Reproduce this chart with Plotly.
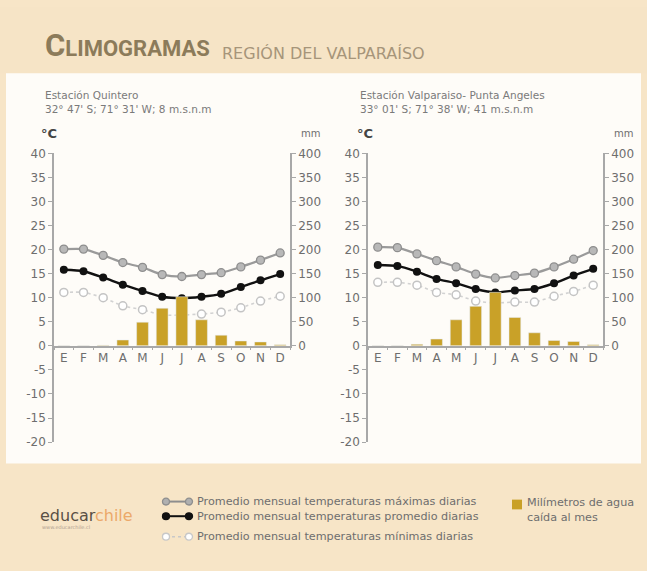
import plotly.graph_objects as go

W, H = 647, 571

months = ["E", "F", "M", "A", "M", "J", "J", "A", "S", "O", "N", "D"]
temp_ticks = [-20, -15, -10, -5, 0, 5, 10, 15, 20, 25, 30, 35, 40]
temp_labels = ["-20", "-15", "-10", "-5", "0", "5", "10", "15", "20", "25", "30", "35", "40"]
mm_ticks = [0, 50, 100, 150, 200, 250, 300, 350, 400]

# Estación Quintero
q_max = [20.1, 20.1, 18.8, 17.3, 16.3, 14.8, 14.4, 14.8, 15.2, 16.4, 17.8, 19.3]
q_mean = [15.8, 15.5, 14.2, 12.7, 11.4, 10.2, 9.9, 10.2, 10.8, 12.2, 13.6, 14.9]
q_min = [11.1, 11.1, 10.0, 8.3, 7.5, 6.4, 6.4, 6.6, 7.0, 7.9, 9.3, 10.3]
q_pp = [0.5, 0.5, 1, 12, 49, 78, 102, 54, 22, 10, 8, 2]

# Estación Valparaíso - Punta Angeles
v_max = [20.5, 20.4, 19.1, 17.7, 16.4, 14.9, 14.1, 14.6, 15.1, 16.4, 18.0, 19.8]
v_mean = [16.8, 16.6, 15.4, 13.9, 13.0, 11.8, 11.1, 11.5, 11.8, 13.0, 14.6, 16.0]
v_min = [13.2, 13.2, 12.6, 11.1, 10.6, 9.3, 8.9, 9.1, 9.1, 10.3, 11.3, 12.6]
v_pp = [0.5, 0.5, 3, 14, 54, 82, 111, 59, 27, 11, 9, 2]

def px(x):
    return x / W

def py(y):
    return 1 - y / H

AX = "#a8a8a8"
TXT = "#6e6e6e"
FONT = "DejaVu Sans, Verdana, sans-serif"
BAR = "#c9a128"

fig = go.Figure()

cat_idx = list(range(12))

def add_chart(xr, yr, y2r, xor, maxv, meanv, minv, pp):
    fig.add_trace(go.Bar(x=cat_idx, y=pp, xaxis=xr, yaxis=y2r, marker_color=BAR,
                         width=0.6, showlegend=False, hoverinfo="skip"))
    fig.add_trace(go.Scatter(x=cat_idx, y=minv, xaxis=xr, yaxis=yr, mode="lines+markers",
                             line=dict(color="#d2d2d2", width=1.6, dash="dot", shape="spline", smoothing=0.6),
                             marker=dict(symbol="circle", size=8, color="white",
                                         line=dict(color="#c4c4c4", width=1.5)),
                             showlegend=False))
    fig.add_trace(go.Scatter(x=cat_idx, y=maxv, xaxis=xr, yaxis=yr, mode="lines+markers",
                             line=dict(color="#9a9a9a", width=2.2, shape="spline", smoothing=0.6),
                             marker=dict(symbol="circle", size=8, color="#b8b8b8",
                                         line=dict(color="#8e8e8e", width=1.3)),
                             showlegend=False))
    fig.add_trace(go.Scatter(x=cat_idx, y=meanv, xaxis=xr, yaxis=yr, mode="lines+markers",
                             line=dict(color="#111111", width=2.4, shape="spline", smoothing=0.6),
                             marker=dict(symbol="circle", size=8, color="#111111"),
                             showlegend=False))
    # invisible helper trace for the overlay tick axis
    fig.add_trace(go.Scatter(x=[-0.5, 11.5], y=[0, 0], xaxis=xor, yaxis=y2r, mode="markers",
                             marker=dict(opacity=0), showlegend=False, hoverinfo="skip"))

def axes(xa, ya, ya2, xov, x0, x1):
    xr = "x" if xa == "xaxis" else "x" + xa[5:]
    yr = "y" if ya == "yaxis" else "y" + ya[5:]
    y2r = "y" + ya2[5:]
    ytop, yzero, ybot = 150, 347.3, 446
    fig.update_layout({
        xa: dict(domain=[px(x0), px(x1)], anchor=y2r, range=[-0.5, 11.5],
                 tickmode="array", tickvals=cat_idx, ticktext=months,
                 showline=True, linecolor=AX, linewidth=1.5, showgrid=False, zeroline=False,
                 ticks="", tickfont=dict(family=FONT, size=12, color=TXT), fixedrange=True),
        xov: dict(overlaying=xr, anchor=y2r, range=[-0.5, 11.5], tickmode="array",
                  tickvals=[i + 0.5 for i in range(-1, 12)], ticks="outside", ticklen=3,
                  tickwidth=1.2, tickcolor=AX, showticklabels=False, showline=False,
                  showgrid=False, zeroline=False),
        ya: dict(domain=[py(ybot), py(ytop)], anchor=xr, range=[-20, 40], tickmode="array",
                 tickvals=temp_ticks, ticktext=temp_labels, ticks="outside", ticklen=4,
                 tickcolor=AX, showline=True, linecolor=AX, linewidth=1.5, showgrid=False,
                 zeroline=False, tickfont=dict(family=FONT, size=12, color=TXT), fixedrange=True),
        ya2: dict(domain=[py(yzero), py(ytop)], anchor=xr, side="right", range=[0, 400],
                  tickmode="array", tickvals=mm_ticks, ticks="outside", ticklen=4, tickcolor=AX,
                  showline=True, linecolor=AX, linewidth=1.5, showgrid=False, zeroline=False,
                  tickfont=dict(family=FONT, size=12, color=TXT), fixedrange=True),
    })

add_chart("x", "y", "y2", "x2", q_max, q_mean, q_min, q_pp)
add_chart("x3", "y3", "y4", "x4", v_max, v_mean, v_min, v_pp)
axes("xaxis", "yaxis", "yaxis2", "xaxis2", 54, 290)
axes("xaxis3", "yaxis3", "yaxis4", "xaxis4", 368, 603)

shapes = [
    # top band
    dict(type="rect", xref="paper", yref="paper", x0=0, x1=1, y0=py(68), y1=1,
         fillcolor="#f6e4c6", line_width=0, layer="below"),
    # white panel
    dict(type="rect", xref="paper", yref="paper", x0=px(6), x1=px(641), y0=py(468), y1=py(68),
         fillcolor="#fefcf8", line_width=0, layer="below"),
]

# legend samples
def leg_line(y, color, fill, dash=None, width=2):
    shapes.append(dict(type="line", xref="paper", yref="paper", x0=px(166), x1=px(189),
                       y0=py(y), y1=py(y), line=dict(color=color, width=width, dash=dash or "solid")))
    for cx in (166, 189):
        shapes.append(dict(type="circle", xref="paper", yref="paper",
                           x0=px(cx - 3.5), x1=px(cx + 3.5), y0=py(y + 3.5), y1=py(y - 3.5),
                           fillcolor=fill, line=dict(color=color, width=1.3)))

leg_line(507, "#8e8e8e", "#b0b0b0")
leg_line(522, "#111111", "#111111")
leg_line(543, "#c8c8c8", "#ffffff", dash="dot", width=1.5)
shapes.append(dict(type="rect", xref="paper", yref="paper", x0=px(512), x1=px(522),
                   y0=py(515), y1=py(505), fillcolor=BAR, line_width=0))

TF = "Roboto, Liberation Sans Narrow, DejaVu Sans Condensed, sans-serif"
ann = [
    dict(x=px(43), y=py(60), xanchor="left", yanchor="bottom",
         text="<b><span style='font-size:31px'>C</span>LIMOGRAMAS</b>",
         font=dict(family=TF, size=22, color="#8c7b5a")),
    dict(x=px(220), y=py(59), xanchor="left", yanchor="bottom",
         text="REGIÓN DEL VALPARAÍSO", font=dict(family=FONT, size=16, color="#a6957a")),
    dict(x=px(43), y=py(97), xanchor="left", yanchor="middle", align="left",
         text="Estación Quintero<br>32° 47' S; 71° 31' W; 8 m.s.n.m",
         font=dict(family=FONT, size=10.5, color="#7a7a7a")),
    dict(x=px(358), y=py(97), xanchor="left", yanchor="middle", align="left",
         text="Estación Valparaiso- Punta Angeles<br>33° 01' S; 71° 38' W; 41 m.s.n.m",
         font=dict(family=FONT, size=10.5, color="#7a7a7a")),
    dict(x=px(39), y=py(130), xanchor="left", yanchor="middle", text="<b>°C</b>",
         font=dict(family=FONT, size=13, color="#444444")),
    dict(x=px(355), y=py(130), xanchor="left", yanchor="middle", text="<b>°C</b>",
         font=dict(family=FONT, size=13, color="#444444")),
    dict(x=px(299), y=py(130), xanchor="left", yanchor="middle", text="mm",
         font=dict(family=FONT, size=10, color=TXT)),
    dict(x=px(612), y=py(130), xanchor="left", yanchor="middle", text="mm",
         font=dict(family=FONT, size=10, color=TXT)),
    dict(x=px(38), y=py(521), xanchor="left", yanchor="middle",
         text="<span style='color:#5a5045'>educar</span><span style='color:#eca96a'>chile</span>",
         font=dict(family=FONT, size=16)),
    dict(x=px(40), y=py(533), xanchor="left", yanchor="middle", text="www.educarchile.cl",
         font=dict(family=FONT, size=5, color="#b0a090")),
    dict(x=px(195), y=py(507), xanchor="left", yanchor="middle",
         text="Promedio mensual temperaturas máximas diarias",
         font=dict(family=FONT, size=11.2, color=TXT)),
    dict(x=px(195), y=py(522), xanchor="left", yanchor="middle",
         text="Promedio mensual temperaturas promedio diarias",
         font=dict(family=FONT, size=11.2, color=TXT)),
    dict(x=px(195), y=py(543), xanchor="left", yanchor="middle",
         text="Promedio mensual temperaturas mínimas diarias",
         font=dict(family=FONT, size=11.2, color=TXT)),
    dict(x=px(525), y=py(516), xanchor="left", yanchor="middle", align="left",
         text="Milímetros de agua<br>caída al mes",
         font=dict(family=FONT, size=11.2, color=TXT)),
]
for a in ann:
    a.update(xref="paper", yref="paper", showarrow=False)

fig.update_layout(width=W, height=H, margin=dict(l=0, r=0, t=0, b=0),
                  paper_bgcolor="#f7e5c7", plot_bgcolor="rgba(0,0,0,0)",
                  shapes=shapes, annotations=ann, bargap=0.4, showlegend=False,
                  font=dict(family=FONT))

fig.write_html("out.html", config={"displayModeBar": False},
               post_script="document.body.style.margin='0px';document.body.style.background='#f7e5c7';")
